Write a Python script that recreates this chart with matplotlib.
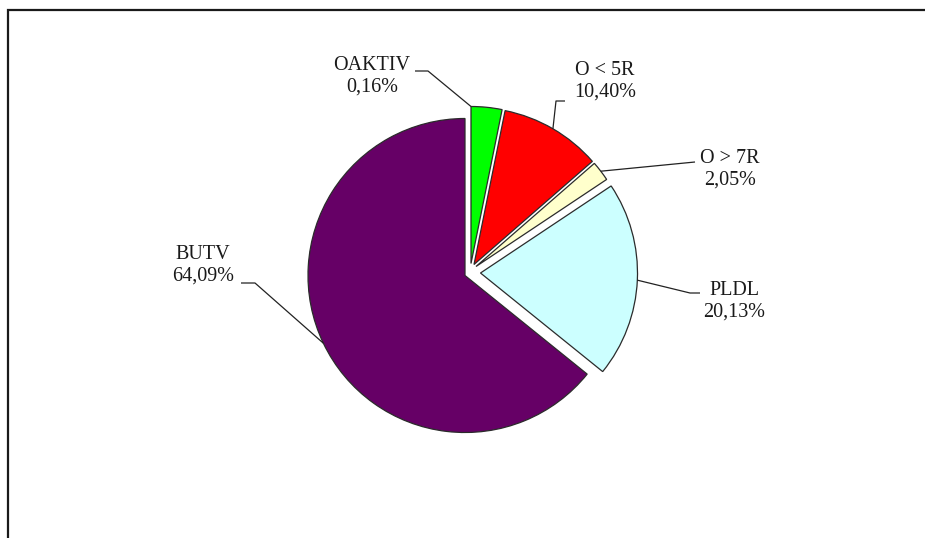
import numpy as np
import matplotlib.pyplot as plt

# slice data (clockwise from 12 o'clock)
names = ["OAKTIV", "O < 5R", "O > 7R", "PLDL", "BUTV"]
sizes = [3.17, 10.40, 2.05, 20.13, 64.09]
pct_labels = ["0,16%", "10,40%", "2,05%", "20,13%", "64,09%"]
colors = ["#00ff00", "#ff0000", "#ffffcc", "#ccffff", "#660066"]

W, H = 925, 538


def py(y):
    # pixel row (from top) -> data y
    return H - y


fig = plt.figure(figsize=(W / 100, H / 100), dpi=100)
ax = fig.add_axes([0, 0, 1, 1])

cx, cy, R = 465, py(275.5), 157
wedges, _ = ax.pie(sizes, colors=colors, startangle=90, counterclock=False,
                   center=(cx, cy), radius=R,
                   wedgeprops=dict(edgecolor="#2b2b2b", linewidth=0.9))

# slice offsets in pixels (right, up) - the small slices sit pulled away
offsets = [(6, 12), (9, 11), (11, 9), (15.5, 2.5), (0, 0)]
for w, (dx, dy) in zip(wedges, offsets):
    x0, y0 = w.center
    w.set_center((x0 + dx, y0 + dy))

ax.set_xlim(0, W)
ax.set_ylim(0, H)
ax.set_aspect("equal")
ax.axis("off")

# label layout: text centre, elbow point, end point next to the text
layout = [
    dict(text=(372, 76), elbow=(428, 71), end=(415, 71), edge="top"),
    dict(text=(605, 81), elbow=(556, 101), end=(565, 101), edge="mid"),
    dict(text=(730, 169), elbow=(695, 162), end=(695, 162), edge="mid"),
    dict(text=(734, 301), elbow=(690, 293), end=(700, 293), edge="mid"),
    dict(text=(203, 265), elbow=(255, 283), end=(241, 283), edge="mid"),
]

for w, name, pct, lay in zip(wedges, names, pct_labels, layout):
    if lay["edge"] == "top":
        ang = np.deg2rad(w.theta2)
    else:
        ang = np.deg2rad((w.theta1 + w.theta2) / 2)
    ax0, ay0 = w.center
    anchor = (ax0 + w.r * np.cos(ang), ay0 + w.r * np.sin(ang))
    ex, ey = lay["elbow"]
    nx, ny = lay["end"]
    ax.plot([anchor[0], ex, nx], [anchor[1], py(ey), py(ny)],
            color="#222222", lw=0.9, solid_capstyle="butt")
    tx, ty = lay["text"]
    ax.text(tx, py(ty), name + "\n" + pct, ha="center", va="center",
            multialignment="center", fontsize=14.5, family="Liberation Serif",
            color="#1a1a1a", linespacing=1.2)

# outer frame (left and top edges visible)
ax.plot([8, 8, W], [0, py(10), py(10)], color="#1a1a1a", lw=1.6,
        solid_joinstyle="miter")

fig.savefig("out.png", dpi=100)
